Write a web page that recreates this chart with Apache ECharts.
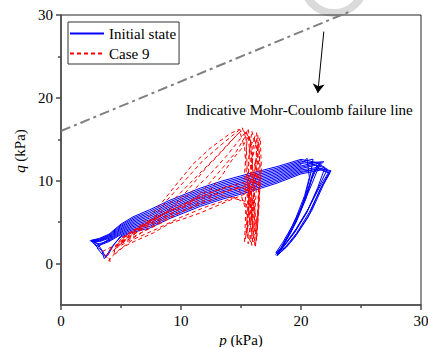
<!DOCTYPE html>
<html>
<head>
<meta charset="utf-8">
<script src="https://cdn.jsdelivr.net/npm/echarts@6/dist/echarts.min.js"></script>
<style>
  html, body { margin: 0; padding: 0; background: #fff; }
  #chart { width: 428px; height: 347px; }
</style>
</head>
<body>
<div id="chart"></div>
<script>
// Axis ticks
const pTicks = [0, 10, 20, 30];
const qTicks = [0, 10, 20, 30];
const qMinorTicks = [5, 15, 25];

// Stress path for the initial state, one array per load cycle: [p (kPa), q (kPa)]
const initialStateCycles = [
  [[2.4,2.75],[3.2,2.64],[4.0,3.05],[5.0,4.07],[6.0,4.79],[7.4,5.5],[9.0,6.6],[11.6,8.1],[13.5,9.0],[15.8,9.9],[18.0,10.79],[20.0,11.78],[21.2,12.2],[22.0,11.6],
   [21.4,9.2],[20.5,6.2],[19.5,3.8],[18.0,1.0],
   [18.7,2.6],[19.6,5.0],[20.4,7.8],[20.9,10.2],[21.4,11.8],
   [20.0,12.42],[18.0,11.51],[15.8,10.7],[13.5,9.8],[11.6,8.9],[9.0,7.4],[7.4,6.3],[6.0,5.47],[5.0,4.63],[4.0,3.45],[3.2,2.96],[2.6,2.8]],
  [[3.0,2.1],[3.2,2.4],[4.0,2.75],[5.0,3.65],[6.0,4.28],[7.4,4.9],[9.0,6.0],[11.6,7.5],[13.5,8.4],[15.8,9.3],[18.0,10.25],[20.0,11.3],[21.4,11.6],[22.4,11.1],
   [21.6,9.0],[20.6,5.6],[19.5,3.2],[18.8,2.0],[18.0,0.95],
   [18.6,2.5],[19.4,4.6],[20.2,7.2],[20.9,9.6],[21.6,12.1],
   [20.0,12.58],[18.0,11.7],[15.8,10.9],[13.5,10.0],[11.6,9.1],[9.0,7.6],[7.4,6.5],[6.0,5.64],[5.0,4.77],[4.0,3.55],[3.2,3.04],[2.5,2.8]],
  [[3.1,2.3],[3.5,1.4],[3.7,0.8],[4.2,1.9],[5.0,3.37],[6.0,3.94],[7.4,4.5],[9.0,5.6],[11.6,7.1],[13.5,8.0],[15.8,8.9],[18.0,9.89],[20.0,10.98],[21.6,11.5],[22.5,11.2],
   [21.9,9.6],[20.9,6.4],[19.8,3.9],[18.9,2.2],[18.1,1.1],
   [18.5,2.3],[19.2,4.0],[20.0,6.5],[20.6,9.0],[21.0,11.0],[21.9,12.3],
   [20.0,12.1],[18.0,11.15],[15.8,10.3],[13.5,9.4],[11.6,8.5],[9.0,7.0],[7.4,5.9],[6.0,5.13],[5.0,4.35],[4.0,3.25],[3.2,2.8],[2.7,2.7]],
  [[3.2,2.2],[4.0,2.65],[5.0,3.51],[6.0,4.11],[7.4,4.7],[9.0,5.8],[11.6,7.3],[13.5,8.2],[15.8,9.1],[18.0,10.07],[20.0,11.14],[21.5,11.4],[22.3,11.0],
   [21.5,9.1],[20.4,6.0],[19.3,3.5],[18.5,2.0],[17.9,1.1],
   [18.4,2.0],[19.1,3.6],[19.8,5.8],[20.4,8.4],[20.8,10.8],[21.0,12.6],
   [20.0,12.26],[18.0,11.33],[15.8,10.5],[13.5,9.6],[11.6,8.7],[9.0,7.2],[7.4,6.1],[6.0,5.3],[5.0,4.49],[4.0,3.35],[3.2,2.88],[2.5,2.75]],
  [[3.0,2.0],[3.4,1.6],[3.6,0.6],[3.9,1.0],[4.4,2.3],[5.0,3.23],[6.0,3.77],[7.4,4.3],[9.0,5.4],[11.6,6.9],[13.5,7.8],[15.8,8.7],[18.0,9.71],[20.0,10.82],[21.7,11.3],[22.4,10.9],
   [21.7,9.2],[20.7,6.2],[19.6,3.6],[18.7,2.0],[18.0,1.2],
   [18.3,1.8],[18.9,3.4],[19.6,5.6],[20.3,8.2],[20.7,10.4],[20.5,12.7],
   [20.0,11.94],[18.0,10.97],[15.8,10.1],[13.5,9.2],[11.6,8.3],[9.0,6.8],[7.4,5.7],[6.0,4.96],[5.0,4.21],[4.0,3.15],[3.2,2.72],[2.6,2.7]],
  [[3.3,2.3],[4.0,2.85],[5.0,3.79],[6.0,4.45],[7.4,5.1],[9.0,6.2],[11.6,7.7],[13.5,8.6],[15.8,9.5],[18.0,10.43],[20.0,11.46],[21.3,11.9],[22.2,11.4],
   [21.6,9.6],[20.6,6.6],[19.6,4.2],[18.7,2.4],[17.9,1.3],
   [18.5,2.6],[19.3,4.6],[20.1,7.0],[20.7,9.4],[21.2,11.6],[21.7,12.2],
   [20.0,11.62],[18.0,10.61],[15.8,9.7],[13.5,8.8],[11.6,7.9],[9.0,6.4],[7.4,5.3],[6.0,4.62],[5.0,3.93],[4.0,2.95],[3.4,2.4],[3.0,1.9],[3.5,1.0]]
];

// Stress path for Case 9, one array per load cycle: [p (kPa), q (kPa)]
const case9Cycles = [
  [[4.1,0.2],[3.9,1.2],[4.3,1.5],[5.5,3.0],[7.0,5.2],[8.0,6.6],[9.3,9.0],[11.0,12.0],[12.5,14.0],[14.0,15.6],[14.8,16.2],[15.4,15.8],
   [15.5,12.0],[15.6,8.0],[15.7,4.5],[15.9,2.2],[16.1,5.0],[16.3,9.5],[16.4,13.5],[16.1,15.2],[15.8,11.0],[15.6,6.5],[15.5,8.5],
   [14.0,7.6],[11.6,6.1],[9.0,4.8],[7.7,3.7],[6.0,2.6],[5.2,2.0],[4.4,1.0]],
  [[4.4,1.0],[4.5,2.0],[6.5,4.2],[8.5,6.4],[10.0,8.6],[11.5,10.8],[13.0,13.0],[14.3,15.0],[15.0,16.0],[15.6,15.6],
   [15.8,12.0],[15.9,7.5],[16.0,3.5],[16.2,2.0],[16.4,6.0],[16.6,10.5],[16.5,14.5],[16.2,12.0],[16.0,8.0],[15.8,5.0],[15.4,7.5],
   [13.5,8.2],[11.6,7.2],[9.0,5.6],[7.0,4.0],[5.5,2.6],[4.5,1.8]],
  [[4.5,1.8],[5.0,2.5],[7.5,4.9],[9.5,7.0],[11.0,8.8],[12.5,10.9],[13.8,13.0],[14.8,14.8],[15.4,15.9],
   [15.9,14.5],[16.0,10.0],[16.1,5.5],[16.3,2.8],[16.5,7.0],[16.6,11.5],[16.4,15.5],[16.0,13.0],[15.7,9.0],[15.5,4.0],[15.3,2.6],[15.4,6.5],
   [14.8,9.2],[12.0,8.0],[9.5,6.3],[7.0,4.5],[5.4,3.2],[4.6,2.2]],
  [[4.6,2.2],[5.0,3.0],[8.0,5.5],[10.5,7.4],[12.5,9.0],[13.4,10.6],[14.2,12.4],[15.0,13.8],[15.7,15.5],
   [15.9,12.5],[15.7,8.0],[15.5,4.5],[15.6,2.4],[15.9,6.0],[16.2,10.5],[16.3,14.0],[15.9,16.0],[15.6,12.0],[15.8,7.0],[16.0,4.0],[15.8,8.8],
   [14.0,9.4],[11.6,8.0],[9.0,6.3],[7.0,4.9],[5.5,3.4],[4.8,2.5]],
  [[4.8,2.5],[6.0,3.5],[9.0,5.8],[11.0,7.6],[12.3,9.6],[13.5,11.6],[14.6,13.5],[15.3,15.2],[15.6,16.3],
   [15.9,13.0],[16.1,8.5],[16.2,4.5],[16.0,2.6],[15.7,5.5],[15.6,10.0],[15.7,13.8],[16.3,15.8],[16.5,11.0],[16.4,6.5],[16.2,3.5],[15.9,7.0],
   [15.2,9.8],[12.5,8.6],[10.0,7.0],[8.0,5.6],[6.0,4.0],[5.0,3.0]],
  [[5.0,3.0],[5.8,3.8],[7.0,4.6],[8.6,6.0],[9.8,7.6],[11.0,9.6],[12.0,11.4],[13.2,13.2],[14.2,14.8],[14.9,15.9],
   [15.3,14.0],[15.5,10.0],[15.8,6.0],[16.1,3.2],[16.2,2.1],[16.4,5.0],[16.5,9.0],[16.2,12.5],[15.9,9.0],[15.7,5.2],[15.4,3.4],[15.6,7.0],
   [14.5,8.0],[12.0,6.8],[10.0,5.6],[8.0,4.2],[6.0,2.9],[4.8,1.6],[4.2,0.8],[4.0,0.3]],
  [[3.5,1.5],[4.2,2.0],[5.5,2.8],[6.8,4.4],[7.8,5.6],[8.8,7.6],[10.2,9.8],[11.8,12.4],[13.4,14.4],[14.5,15.7],[15.1,16.4],
   [15.5,14.8],[15.3,11.0],[15.4,7.0],[15.6,3.4],[15.8,2.6],[16.0,6.0],[16.2,10.0],[16.3,14.0],[16.6,15.2],[16.7,11.5],[16.5,7.5],[16.3,4.8],[16.0,7.5],[15.6,9.4],
   [13.0,8.4],[10.5,6.6],[8.5,5.0],[6.5,3.6],[5.0,2.4],[4.0,1.6]]
];

// Indicative Mohr-Coulomb failure line end points
const failureLine = [[0, 16], [24.2, 30.5]];
// Arrow pointing from the failure line to its caption
const arrowFrom = [21.9, 28.0];
const arrowTo = [21.4, 20.6];
const failureCaption = 'Indicative Mohr-Coulomb failure line';

const FONT = 'Liberation Serif, Times New Roman, serif';
const AXIS_COLOR = '#4a4a4a';
const BLUE = '#0000ff';
const RED = '#ff0000';

const chart = echarts.init(document.getElementById('chart'), null, { renderer: 'svg' });

const axisText = { fontFamily: FONT, fontSize: 15, color: '#000' };
const italicRich = { i: { fontFamily: FONT, fontSize: 15, fontStyle: 'italic', color: '#000' } };

chart.setOption({
  animation: false,
  backgroundColor: '#fff',
  textStyle: { fontFamily: FONT, fontSize: 15, color: '#000' },
  grid: {
    left: 61, right: 7, top: 15, bottom: 42,
    outerBoundsMode: 'none', containLabel: false,
    show: true, borderColor: '#222', borderWidth: 1
  },
  legend: {
    data: ['Initial state', 'Case 9'],
    orient: 'vertical',
    left: 68, top: 22,
    itemWidth: 34, itemHeight: 14, itemGap: 5,
    padding: [4, 3, 3, 1],
    borderColor: '#333', borderWidth: 1,
    itemStyle: { opacity: 0 },
    textStyle: { fontFamily: FONT, fontSize: 15, color: '#000' }
  },
  xAxis: {
    type: 'value', min: 0, max: 30, interval: 10,
    name: '{i|p} (kPa)', nameLocation: 'middle', nameGap: 23,
    nameTextStyle: Object.assign({ rich: italicRich }, axisText),
    axisLine: { onZero: false, lineStyle: { color: AXIS_COLOR, width: 1.5 } },
    axisTick: { length: 5, lineStyle: { color: AXIS_COLOR, width: 1.5 } },
    minorTick: { show: true, splitNumber: 2, length: 3, lineStyle: { color: AXIS_COLOR, width: 1.5 } },
    axisLabel: Object.assign({ margin: 8, formatter: v => (pTicks.includes(v) ? String(v) : '') }, axisText),
    splitLine: { show: false }
  },
  yAxis: [{
    type: 'value', min: -5, max: 30, interval: 5,
    name: '{i|q} (kPa)', nameLocation: 'middle', nameGap: 32, nameRotate: 90,
    nameTextStyle: Object.assign({ padding: [0, 0, 0, 18], rich: italicRich }, axisText),
    axisLine: { show: true, onZero: false, lineStyle: { color: AXIS_COLOR, width: 1.5 } },
    axisTick: { show: true, length: 5, customValues: qTicks, lineStyle: { color: AXIS_COLOR, width: 1.5 } },
    axisLabel: Object.assign({ margin: 8, customValues: qTicks,
      formatter: v => (qTicks.includes(v) ? String(v) : '') }, axisText),
    splitLine: { show: false }
  }, {
    type: 'value', min: -5, max: 30, interval: 5, position: 'left',
    axisLine: { show: false, onZero: false },
    axisTick: { show: true, length: 3, customValues: qMinorTicks, lineStyle: { color: AXIS_COLOR, width: 1.5 } },
    axisLabel: { show: false },
    splitLine: { show: false }
  }],
  graphic: [{
    // faint ring mark at the top edge
    type: 'arc', z: -10,
    shape: { cx: 334, cy: -17, r: 30, startAngle: 0, endAngle: Math.PI },
    style: { stroke: '#dadada', lineWidth: 8, fill: null }
  }, {
    type: 'text', left: 186, top: 102,
    style: { text: failureCaption, fontFamily: FONT, fontSize: 15, fill: '#000' }
  }],
  series: [{
    name: 'Failure line',
    type: 'line', symbol: 'none', clip: false, z: 1,
    data: failureLine,
    lineStyle: { color: '#7f7f7f', width: 2, type: [10, 4, 3, 4] },
    markLine: {
      silent: true, symbol: ['none', 'arrow'], symbolSize: 9,
      label: { show: false },
      lineStyle: { color: '#000', width: 1, type: 'solid' },
      data: [[{ coord: arrowFrom }, { coord: arrowTo }]]
    }
  }, {
    name: 'Initial state',
    type: 'line', symbol: 'none', z: 3,
    data: initialStateCycles.flat(),
    itemStyle: { color: BLUE },
    lineStyle: { color: BLUE, width: 1 }
  }, {
    name: 'Case 9',
    type: 'line', symbol: 'none', z: 4,
    data: case9Cycles.flat(),
    itemStyle: { color: RED },
    lineStyle: { color: RED, width: 1, type: [4, 3] }
  }]
});
</script>
</body>
</html>
